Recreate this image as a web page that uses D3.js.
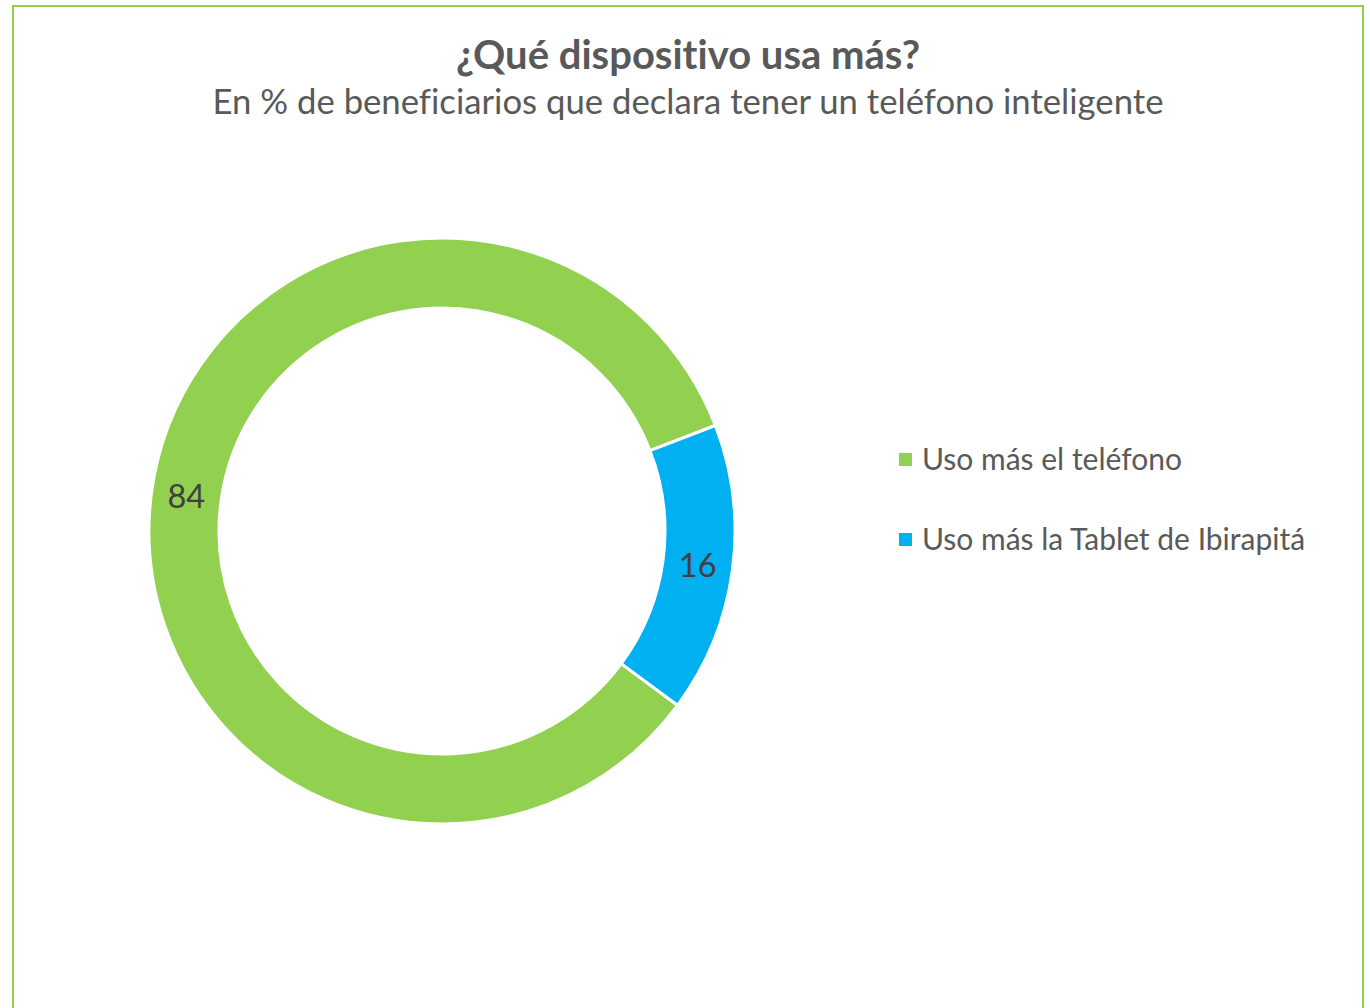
<!DOCTYPE html>
<html>
<head>
<meta charset="utf-8">
<script src="https://cdn.jsdelivr.net/npm/d3@7"></script>
<style>
  body { margin: 0; background: #fff; }
  text { font-family: Lato, "Open Sans", sans-serif; font-variant-ligatures: none; }
</style>
</head>
<body>
<svg id="chart" width="1370" height="1008"></svg>
<script>
// DATA
const categories = ['Uso más el teléfono', 'Uso más la Tablet de Ibirapitá'];
const values = [84, 16];
const colors = ['#92D050', '#00B0F0'];

const svg = d3.select('#chart');

// chart frame
svg.append('rect')
  .attr('x', 13).attr('y', 6)
  .attr('width', 1350).attr('height', 1020)
  .attr('fill', '#fff')
  .attr('stroke', '#92D050')
  .attr('stroke-width', 2);

// TITLES
svg.append('text')
  .attr('x', 688).attr('y', 69)
  .attr('text-anchor', 'middle')
  .attr('font-size', 40).attr('font-weight', 'bold')
  .attr('fill', '#595959')
  .text('¿Qué dispositivo usa más?');

svg.append('text')
  .attr('x', 688).attr('y', 114)
  .attr('text-anchor', 'middle')
  .attr('font-size', 34.7)
  .attr('fill', '#595959')
  .text('En % de beneficiarios que declara tener un teléfono inteligente');

// DONUT
const cx = 442, cy = 531;
const outerR = 293, innerR = 223;
const startRot = 126.5 * Math.PI / 180;

const pie = d3.pie()
  .sort(null)
  .startAngle(startRot)
  .endAngle(startRot + 2 * Math.PI)
  .value(function (d) { return d; });

const arc = d3.arc().innerRadius(innerR).outerRadius(outerR);
const labelArc = d3.arc().innerRadius((innerR + outerR) / 2).outerRadius((innerR + outerR) / 2);

const g = svg.append('g').attr('transform', 'translate(' + cx + ',' + cy + ')');

const slices = g.selectAll('.arc')
  .data(pie(values))
  .enter().append('g')
  .attr('class', 'arc');

slices.append('path')
  .attr('d', arc)
  .attr('fill', function (d, i) { return colors[i]; })
  .attr('stroke', '#fff')
  .attr('stroke-width', 3);

slices.append('text')
  .attr('transform', function (d) { return 'translate(' + labelArc.centroid(d) + ')'; })
  .attr('dy', '0.35em')
  .attr('text-anchor', 'middle')
  .attr('font-size', 32.5)
  .attr('fill', '#404040')
  .text(function (d) { return d.data; });

// LEGEND
const legend = svg.selectAll('.legend')
  .data(categories)
  .enter().append('g')
  .attr('class', 'legend')
  .attr('transform', function (d, i) { return 'translate(899,' + (459 + i * 80) + ')'; });

legend.append('rect')
  .attr('x', 0).attr('y', -6)
  .attr('width', 13).attr('height', 13)
  .attr('fill', function (d, i) { return colors[i]; });

legend.append('text')
  .attr('x', 23).attr('dy', '0.35em')
  .attr('font-size', 30)
  .attr('fill', '#595959')
  .text(function (d) { return d; });
</script>
</body>
</html>
